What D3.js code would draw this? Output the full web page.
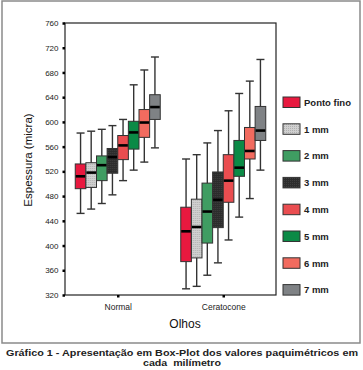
<!DOCTYPE html>
<html>
<head>
<meta charset="UTF-8" />
<title>Box-Plot paquimetria</title>
<script src="https://d3js.org/d3.v7.min.js"></script>
<style>
  body { margin: 0; background: #fff; }
  text { font-family: "Liberation Sans", Arial, Helvetica, sans-serif; }
</style>
</head>
<body>
<script type="text/javascript">

var groups = ["Normal", "Ceratocone"]
var series = ["Ponto fino", "1 mm", "2 mm", "3 mm", "4 mm", "5 mm", "6 mm", "7 mm"]
var yTicks = [320, 360, 400, 440, 480, 520, 560, 600, 640, 680, 720, 760]

// [whisker low, q1, median, q3, whisker high] per series, one list per group
var normalStats = [
  [452, 492, 512, 532, 582],
  [459, 494, 518, 534, 585],
  [468, 505, 530, 545, 588],
  [482, 517, 543, 557, 594],
  [505, 539, 562, 578, 604],
  [522, 556, 583, 601, 660],
  [535, 575, 599, 620, 684],
  [558, 604, 624, 644, 705]
]
var ceratoconeStats = [
  [330, 374, 423, 462, 540],
  [334, 380, 430, 475, 547],
  [352, 404, 455, 501, 566],
  [372, 429, 474, 519, 586],
  [409, 470, 505, 547, 618],
  [446, 512, 526, 570, 646],
  [476, 540, 553, 591, 666],
  [522, 570, 586, 625, 701]
]

var colors = ["#e8193f", "url(#dotsLight)", "#3f9d62", "url(#dotsDark)", "#ea4d50", "#0b8a46", "#f26b5f", "#7f8285"]

var width = 363
var height = 370

var svg = d3.select("body").append("svg")
    .attr("width", width)
    .attr("height", height)

var defs = svg.append("defs")
var p1 = defs.append("pattern").attr("id", "dotsLight").attr("patternUnits", "userSpaceOnUse")
    .attr("width", 2).attr("height", 2)
p1.append("rect").attr("width", 2).attr("height", 2).attr("fill", "#d0d0d0")
p1.append("rect").attr("width", 1).attr("height", 1).attr("fill", "#b0b0b0")
var p2 = defs.append("pattern").attr("id", "dotsDark").attr("patternUnits", "userSpaceOnUse")
    .attr("width", 2).attr("height", 2)
p2.append("rect").attr("width", 2).attr("height", 2).attr("fill", "#2c2c2c")
p2.append("rect").attr("width", 1).attr("height", 1).attr("fill", "#3e3e3e")

// outer frame
svg.append("rect")
    .attr("x", 2).attr("y", 1).attr("width", 358).attr("height", 342)
    .attr("fill", "none").attr("stroke", "#8a8a8a").attr("stroke-width", 1.5)

var plotL = 65, plotR = 276, plotT = 23, plotB = 295

var y = d3.scaleLinear().domain([320, 760]).range([plotB, plotT])
var x = d3.scalePoint().domain(groups).range([plotL, plotR]).padding(0.5)
var xs = d3.scaleBand().domain(series).range([-42.5, 42.5])

// plot frame
svg.append("rect")
    .attr("x", plotL).attr("y", plotT).attr("width", plotR - plotL).attr("height", plotB - plotT)
    .attr("fill", "none").attr("stroke", "#222").attr("stroke-width", 1.2)

var yAxis = svg.append("g")
    .attr("transform", "translate(" + plotL + ",0)")
    .call(d3.axisLeft(y).tickValues(yTicks).tickSize(2.5).tickPadding(4))
yAxis.select(".domain").remove()
yAxis.selectAll(".tick line").attr("stroke", "#000").attr("stroke-width", 2.5)
yAxis.selectAll(".tick text").attr("font-size", 8).attr("fill", "#222")
    .attr("font-family", "Liberation Sans, Arial, sans-serif")

var xAxis = svg.append("g")
    .attr("transform", "translate(0," + plotB + ")")
    .call(d3.axisBottom(x).tickSize(2.5).tickPadding(6))
xAxis.select(".domain").remove()
xAxis.selectAll(".tick line").attr("stroke", "#000").attr("stroke-width", 2.5)
xAxis.selectAll(".tick text").attr("font-size", 8.5).attr("fill", "#222")
    .attr("font-family", "Liberation Sans, Arial, sans-serif")

var allStats = [normalStats, ceratoconeStats]

groups.forEach(function(g, gi) {
  var gEl = svg.append("g").attr("transform", "translate(" + x(g) + ",0)")
  var bw = xs.bandwidth()
  allStats[gi].forEach(function(s, i) {
    var cx = xs(series[i]) + bw / 2
    var b = gEl.append("g")
    // whisker
    b.append("line").attr("x1", cx).attr("x2", cx).attr("y1", y(s[4])).attr("y2", y(s[0]))
      .attr("stroke", "#333").attr("stroke-width", 1.4)
    b.selectAll(".cap").data([s[0], s[4]]).enter().append("line")
      .attr("x1", cx - 4).attr("x2", cx + 4)
      .attr("y1", function(d) { return y(d) }).attr("y2", function(d) { return y(d) })
      .attr("stroke", "#333").attr("stroke-width", 1.4)
    b.append("rect")
      .attr("x", xs(series[i])).attr("width", bw)
      .attr("y", y(s[3])).attr("height", y(s[1]) - y(s[3]))
      .attr("fill", colors[i]).attr("stroke", "#333").attr("stroke-width", 1)
    b.append("line").attr("x1", xs(series[i]) + 0.5).attr("x2", xs(series[i]) + bw - 0.5)
      .attr("y1", y(s[2])).attr("y2", y(s[2]))
      .attr("stroke", "#000").attr("stroke-width", 2.6)
  })
})

// legend
var legend = svg.append("g")
legend.selectAll("rect").data(series).enter().append("rect")
    .attr("x", 283).attr("y", function(d, i) { return 97 + i * 26.8 })
    .attr("width", 17).attr("height", 10.5)
    .attr("fill", function(d, i) { return colors[i] })
    .attr("stroke", "#333").attr("stroke-width", 1)
legend.selectAll("text").data(series).enter().append("text")
    .attr("x", 304).attr("y", function(d, i) { return 102.5 + i * 26.8 })
    .attr("dy", "0.35em")
    .attr("font-size", 9.5).attr("font-weight", "bold").attr("fill", "#222")
    .text(function(d) { return d })

// axis titles
svg.append("text")
    .attr("transform", "translate(32,160) rotate(-90)")
    .attr("text-anchor", "middle")
    .attr("font-size", 11.5).attr("fill", "#111")
    .text("Espessura (micra)")

svg.append("text")
    .attr("x", 185).attr("y", 328)
    .attr("text-anchor", "middle")
    .attr("font-size", 12).attr("fill", "#111")
    .text("Olhos")

// caption
svg.append("text")
    .attr("x", 182).attr("y", 356)
    .attr("text-anchor", "middle")
    .attr("font-size", 9).attr("font-weight", "bold").attr("fill", "#222")
    .attr("textLength", 352).attr("lengthAdjust", "spacingAndGlyphs")
    .text("Gráfico 1 - Apresentação em Box-Plot dos valores paquimétricos em")
svg.append("text")
    .attr("x", 182).attr("y", 366)
    .attr("text-anchor", "middle")
    .attr("font-size", 9).attr("font-weight", "bold").attr("fill", "#222")
    .attr("xml:space", "preserve")
    .attr("textLength", 78).attr("lengthAdjust", "spacingAndGlyphs")
    .text("cada  milímetro")

</script>
</body>
</html>
